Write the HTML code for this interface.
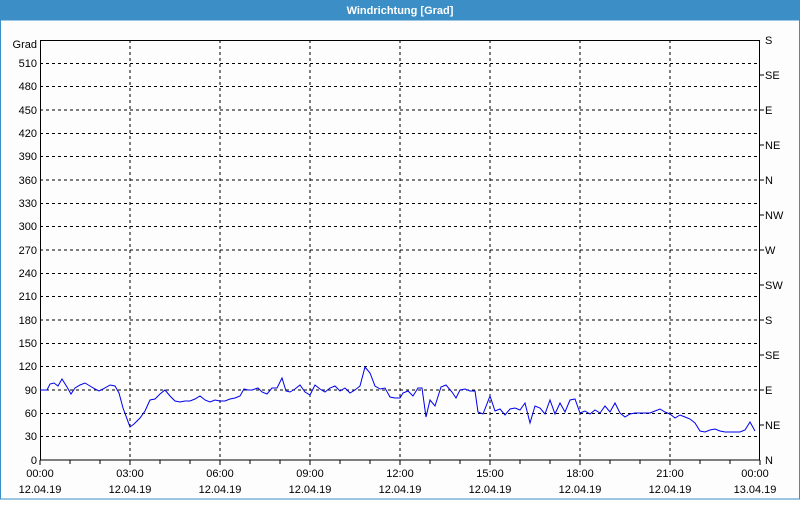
<!DOCTYPE html>
<html><head><meta charset="utf-8"><style>
html,body{margin:0;padding:0;background:#fff;}
body{width:800px;height:500px;overflow:hidden;}
</style></head><body>
<svg width="800" height="500" xmlns="http://www.w3.org/2000/svg" font-family="Liberation Sans, sans-serif" font-size="11">
<rect x="0" y="0" width="800" height="500" fill="#fcfdfc"/>
<rect x="0" y="0" width="800" height="20" fill="#3c8fc6"/>
<rect x="0.5" y="20" width="799" height="479" fill="none" stroke="#3c8fc6" stroke-width="1"/>
<text x="400" y="14" fill="#fff" font-weight="bold" text-anchor="middle">Windrichtung [Grad]</text>
<g stroke="#000" stroke-width="1" stroke-dasharray="3,3" shape-rendering="crispEdges">
<line x1="40" x2="760" y1="63.3" y2="63.3"/><line x1="40" x2="760" y1="86.7" y2="86.7"/><line x1="40" x2="760" y1="110" y2="110"/><line x1="40" x2="760" y1="133.3" y2="133.3"/><line x1="40" x2="760" y1="156.7" y2="156.7"/><line x1="40" x2="760" y1="180" y2="180"/><line x1="40" x2="760" y1="203.3" y2="203.3"/><line x1="40" x2="760" y1="226.7" y2="226.7"/><line x1="40" x2="760" y1="250" y2="250"/><line x1="40" x2="760" y1="273.3" y2="273.3"/><line x1="40" x2="760" y1="296.7" y2="296.7"/><line x1="40" x2="760" y1="320" y2="320"/><line x1="40" x2="760" y1="343.3" y2="343.3"/><line x1="40" x2="760" y1="366.7" y2="366.7"/><line x1="40" x2="760" y1="390" y2="390"/><line x1="40" x2="760" y1="413.3" y2="413.3"/><line x1="40" x2="760" y1="436.7" y2="436.7"/>
<line y1="40" y2="460" x1="130" x2="130"/><line y1="40" y2="460" x1="220" x2="220"/><line y1="40" y2="460" x1="310" x2="310"/><line y1="40" y2="460" x1="400" x2="400"/><line y1="40" y2="460" x1="490" x2="490"/><line y1="40" y2="460" x1="580" x2="580"/><line y1="40" y2="460" x1="670" x2="670"/>
</g>
<rect x="40.5" y="40.5" width="719" height="419.5" fill="none" stroke="#000" stroke-width="1" shape-rendering="crispEdges"/>
<g stroke="#000" shape-rendering="crispEdges">
<line x1="40" x2="40" y1="460" y2="465"/><line x1="70" x2="70" y1="460" y2="464"/><line x1="100" x2="100" y1="460" y2="464"/><line x1="130" x2="130" y1="460" y2="465"/><line x1="160" x2="160" y1="460" y2="464"/><line x1="190" x2="190" y1="460" y2="464"/><line x1="220" x2="220" y1="460" y2="465"/><line x1="250" x2="250" y1="460" y2="464"/><line x1="280" x2="280" y1="460" y2="464"/><line x1="310" x2="310" y1="460" y2="465"/><line x1="340" x2="340" y1="460" y2="464"/><line x1="370" x2="370" y1="460" y2="464"/><line x1="400" x2="400" y1="460" y2="465"/><line x1="430" x2="430" y1="460" y2="464"/><line x1="460" x2="460" y1="460" y2="464"/><line x1="490" x2="490" y1="460" y2="465"/><line x1="520" x2="520" y1="460" y2="464"/><line x1="550" x2="550" y1="460" y2="464"/><line x1="580" x2="580" y1="460" y2="465"/><line x1="610" x2="610" y1="460" y2="464"/><line x1="640" x2="640" y1="460" y2="464"/><line x1="670" x2="670" y1="460" y2="465"/><line x1="700" x2="700" y1="460" y2="464"/><line x1="730" x2="730" y1="460" y2="464"/><line x1="760" x2="760" y1="460" y2="465"/>
<line x1="760" x2="764" y1="75" y2="75"/><line x1="760" x2="764" y1="110" y2="110"/><line x1="760" x2="764" y1="145" y2="145"/><line x1="760" x2="764" y1="180" y2="180"/><line x1="760" x2="764" y1="215" y2="215"/><line x1="760" x2="764" y1="250" y2="250"/><line x1="760" x2="764" y1="285" y2="285"/><line x1="760" x2="764" y1="320" y2="320"/><line x1="760" x2="764" y1="355" y2="355"/><line x1="760" x2="764" y1="390" y2="390"/><line x1="760" x2="764" y1="425" y2="425"/>
</g>
<g text-anchor="end" fill="#000">
<text x="37" y="48">Grad</text>
<text x="37" y="67">510</text><text x="37" y="90">480</text><text x="37" y="114">450</text><text x="37" y="137">420</text><text x="37" y="160">390</text><text x="37" y="184">360</text><text x="37" y="207">330</text><text x="37" y="230">300</text><text x="37" y="254">270</text><text x="37" y="277">240</text><text x="37" y="300">210</text><text x="37" y="324">180</text><text x="37" y="347">150</text><text x="37" y="370">120</text><text x="37" y="394">90</text><text x="37" y="417">60</text><text x="37" y="440">30</text><text x="37" y="464">0</text>
</g>
<g fill="#000">
<text x="765" y="44">S</text><text x="765" y="79">SE</text><text x="765" y="114">E</text><text x="765" y="149">NE</text><text x="765" y="184">N</text><text x="765" y="219">NW</text><text x="765" y="254">W</text><text x="765" y="289">SW</text><text x="765" y="324">S</text><text x="765" y="359">SE</text><text x="765" y="394">E</text><text x="765" y="429">NE</text><text x="765" y="464">N</text>
</g>
<g text-anchor="middle" fill="#000">
<text x="40" y="477">00:00</text><text x="40" y="493">12.04.19</text>
<text x="130" y="477">03:00</text><text x="130" y="493">12.04.19</text>
<text x="220" y="477">06:00</text><text x="220" y="493">12.04.19</text>
<text x="310" y="477">09:00</text><text x="310" y="493">12.04.19</text>
<text x="400" y="477">12:00</text><text x="400" y="493">12.04.19</text>
<text x="490" y="477">15:00</text><text x="490" y="493">12.04.19</text>
<text x="580" y="477">18:00</text><text x="580" y="493">12.04.19</text>
<text x="670" y="477">21:00</text><text x="670" y="493">12.04.19</text>
<text x="755" y="477">00:00</text><text x="755" y="493">13.04.19</text>
</g>
<polyline fill="none" stroke="#0000ee" stroke-width="1" points="40,390 47,390 50,384 54,383 58,386 62,379 67,387 71,394 75,388 80,385 85,383 90,386 95,389 99,391 103,389 110,385 115,386 119,393 123,408 130,427 134,424 140,418 145,411 150,400 155,399 160,394 165,390 170,396 175,401 180,402 185,401 190,401 195,399 200,396 205,400 210,402 215,400 220,401 225,401 230,399 235,398 240,396 244,389 248,390 252,390 258,388 262,392 267,394 272,388 277,388 282,378 286,391 290,392 295,389 300,385 305,392 310,395 315,385 320,389 325,392 330,388 335,386 340,391 345,388 350,393 355,390 360,386 365,367 370,373 375,386 380,389 385,388 390,397 395,398 400,398 403,393 408,391 413,396 418,388 422,388 426,417 430,400 435,406 441,387 446,385 452,392 456,398 460,390 465,389 470,391 475,391 478,412 483,414 490,396 495,411 500,409 505,415 510,409 515,408 520,410 525,403 530,423 535,406 540,408 545,414 550,400 555,414 560,403 565,412 570,400 575,399 580,413 585,411 590,414 595,410 600,413 605,406 610,412 615,403 620,413 625,417 630,414 635,413 640,413 650,413 655,411 660,409 665,412 670,414 675,418 680,415 685,417 690,419 695,423 700,431 705,432 710,430 715,429 720,431 725,432 735,432 740,432 745,430 750,422 755,431"/>
</svg>
</body></html>
